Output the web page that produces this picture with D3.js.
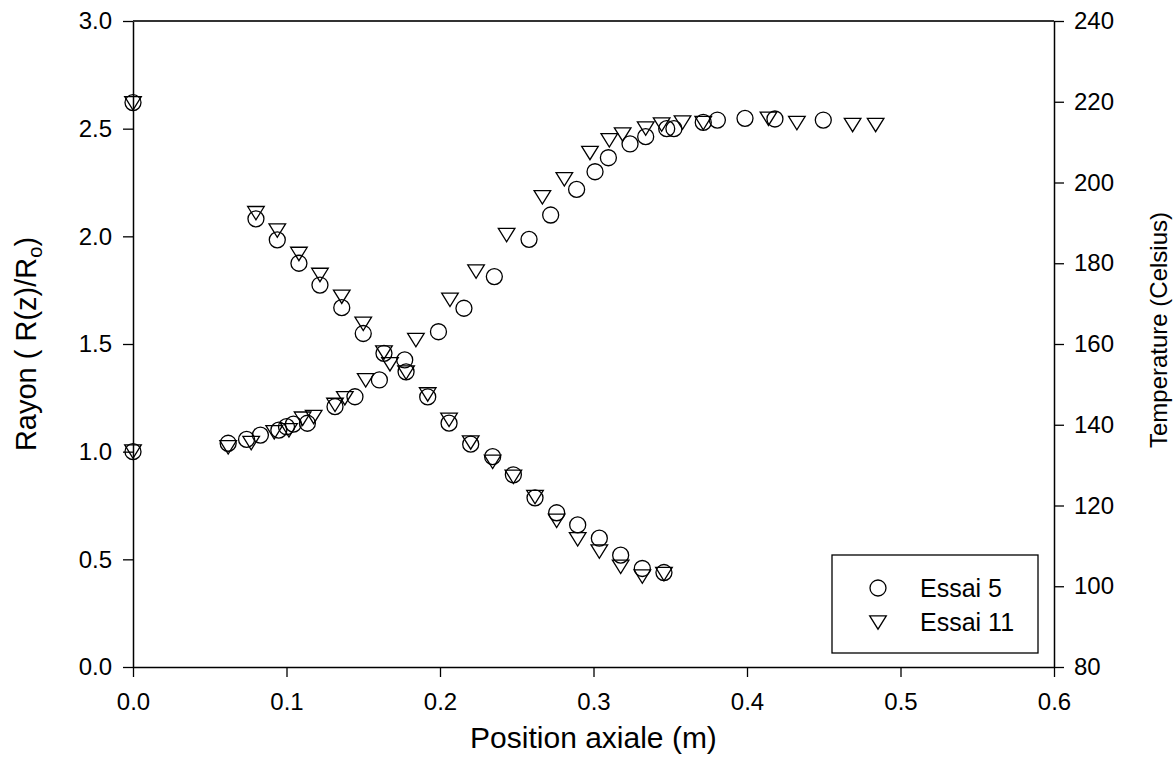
<!DOCTYPE html>
<html>
<head>
<meta charset="utf-8">
<script src="https://cdn.jsdelivr.net/npm/d3@7"></script>
<style>
  html, body { margin: 0; padding: 0; background: #fff; }
  svg { display: block; }
  text { font-family: Arial, "Liberation Sans", sans-serif; fill: #000; }
</style>
</head>
<body>
<svg id="chart" width="1174" height="776"></svg>
<script>
// ---- data ----
// Rayon R(z)/Ro (left axis)
const rayon5X = [0, 0.062, 0.074, 0.083, 0.095, 0.100, 0.1045, 0.1136, 0.1316, 0.1446, 0.1605, 0.177, 0.199, 0.2156, 0.2354, 0.258, 0.2721, 0.289, 0.301, 0.3097, 0.3238, 0.334, 0.3477, 0.3524, 0.3715, 0.3807, 0.3987, 0.4182, 0.4497];
const rayon5Y = [1.0, 1.039, 1.057, 1.077, 1.10, 1.116, 1.128, 1.132, 1.209, 1.255, 1.333, 1.426, 1.557, 1.666, 1.813, 1.986, 2.099, 2.218, 2.30, 2.365, 2.429, 2.463, 2.50, 2.50, 2.529, 2.540, 2.548, 2.545, 2.54];
const rayon11X = [0, 0.062, 0.077, 0.092, 0.1016, 0.1105, 0.1177, 0.1316, 0.138, 0.1516, 0.1674, 0.1843, 0.2065, 0.2235, 0.2434, 0.2667, 0.281, 0.2977, 0.3103, 0.319, 0.334, 0.3444, 0.358, 0.3715, 0.414, 0.4325, 0.4688, 0.4838];
const rayon11Y = [1.0, 1.02, 1.04, 1.09, 1.099, 1.153, 1.161, 1.217, 1.248, 1.331, 1.406, 1.518, 1.705, 1.836, 2.006, 2.181, 2.265, 2.387, 2.446, 2.473, 2.50, 2.519, 2.528, 2.526, 2.546, 2.526, 2.517, 2.517];
// Temperature (right axis)
const temp5X = [0, 0.0801, 0.094, 0.1081, 0.1218, 0.136, 0.150, 0.1635, 0.1779, 0.192, 0.2059, 0.22, 0.2343, 0.2478, 0.2619, 0.276, 0.2897, 0.3038, 0.3177, 0.3318, 0.3459];
const temp5Y = [219.8, 191.0, 185.8, 180.0, 174.6, 169.0, 162.6, 157.7, 153.1, 146.9, 140.4, 135.2, 132.1, 127.6, 121.9, 118.2, 115.2, 111.9, 107.7, 104.4, 103.4];
const temp11X = [0, 0.0801, 0.094, 0.1081, 0.1218, 0.136, 0.150, 0.1635, 0.1779, 0.192, 0.2059, 0.22, 0.2343, 0.2478, 0.2619, 0.276, 0.2897, 0.3038, 0.3177, 0.3318, 0.3459];
const temp11Y = [219.6, 192.4, 188.1, 182.3, 177.1, 171.7, 165.0, 157.9, 152.9, 147.5, 141.2, 135.6, 130.8, 127.1, 122.1, 116.2, 111.6, 108.6, 104.8, 102.4, 103.0];

const xTicks = [0, 0.1, 0.2, 0.3, 0.4, 0.5, 0.6];
const yLeftTicks = [0, 0.5, 1.0, 1.5, 2.0, 2.5, 3.0];
const yRightTicks = [80, 100, 120, 140, 160, 180, 200, 220, 240];
const seriesNames = ["Essai 5", "Essai 11"];

// ---- layout ----
const L = 133, R = 1054, T = 21, B = 667;
const svg = d3.select("#chart");

const x = d3.scaleLinear().domain([0, 0.6]).range([L, R]);
const yL = d3.scaleLinear().domain([0, 3]).range([B, T]);
const yR = d3.scaleLinear().domain([80, 240]).range([B, T]);

// axes
const gx = svg.append("g").attr("transform", `translate(0,${B})`)
  .call(d3.axisBottom(x).tickValues(xTicks).tickFormat(d3.format(".1f"))
    .tickSize(10).tickSizeOuter(0).tickPadding(16));
const gyl = svg.append("g").attr("transform", `translate(${L},0)`)
  .call(d3.axisLeft(yL).tickValues(yLeftTicks).tickFormat(d3.format(".1f"))
    .tickSize(10).tickSizeOuter(0).tickPadding(11));
const gyr = svg.append("g").attr("transform", `translate(${R},0)`)
  .call(d3.axisRight(yR).tickValues(yRightTicks).tickFormat(d3.format("d"))
    .tickSize(10).tickSizeOuter(0).tickPadding(10));

[gx, gyl, gyr].forEach(g => {
  g.selectAll("path.domain").attr("stroke", "#000").attr("stroke-width", 1.5);
  g.selectAll(".tick line").attr("stroke", "#000").attr("stroke-width", 1.3);
  g.selectAll(".tick text").attr("font-size", 24).attr("fill", "#000")
    .attr("font-family", 'Arial, "Liberation Sans", sans-serif');
  g.attr("font-size", null).attr("font-family", null);
});

// top frame line
svg.append("line").attr("x1", L).attr("x2", R).attr("y1", T).attr("y2", T)
  .attr("stroke", "#333").attr("stroke-width", 1.8);

// axis titles
svg.append("text").attr("x", (L + R) / 2).attr("y", 748)
  .attr("text-anchor", "middle").attr("font-size", 30).text("Position axiale (m)");

const lt = svg.append("text")
  .attr("transform", `translate(36,${(T + B) / 2}) rotate(-90)`)
  .attr("text-anchor", "middle").attr("font-size", 29);
lt.append("tspan").text("Rayon ( R(z)/R");
lt.append("tspan").attr("font-size", 20).attr("dy", 6).text("o");
lt.append("tspan").attr("dy", -6).text(")");

svg.append("text")
  .attr("transform", `translate(1167,330) rotate(-90)`)
  .attr("text-anchor", "middle").attr("font-size", 24).text("Temperature (Celsius)");

// markers
const triPath = "M-8.3,-6.7L8.3,-6.7L0,6.7Z";
function circles(xs, ys, yScale) {
  svg.append("g").selectAll("circle").data(xs.map((d, i) => [d, ys[i]])).join("circle")
    .attr("cx", d => x(d[0])).attr("cy", d => yScale(d[1])).attr("r", 8)
    .attr("fill", "none").attr("stroke", "#000").attr("stroke-width", 1.3);
}
function triangles(xs, ys, yScale) {
  svg.append("g").selectAll("path").data(xs.map((d, i) => [d, ys[i]])).join("path")
    .attr("transform", d => `translate(${x(d[0])},${yScale(d[1])})`)
    .attr("d", triPath)
    .attr("fill", "none").attr("stroke", "#000").attr("stroke-width", 1.3);
}
circles(rayon5X, rayon5Y, yL);
triangles(rayon11X, rayon11Y, yL);
circles(temp5X, temp5Y, yR);
triangles(temp11X, temp11Y, yR);

// legend
const lg = svg.append("g");
lg.append("rect").attr("x", 832).attr("y", 555).attr("width", 206).attr("height", 98)
  .attr("fill", "#fff").attr("stroke", "#000").attr("stroke-width", 1.3);
lg.append("circle").attr("cx", 878).attr("cy", 588).attr("r", 8)
  .attr("fill", "none").attr("stroke", "#000").attr("stroke-width", 1.3);
lg.append("path").attr("transform", "translate(878,622.5)").attr("d", triPath)
  .attr("fill", "none").attr("stroke", "#000").attr("stroke-width", 1.3);
lg.selectAll("text").data(seriesNames).join("text")
  .attr("x", 920).attr("y", (d, i) => 597 + i * 33.5)
  .attr("font-size", 25).text(d => d);
</script>
</body>
</html>
